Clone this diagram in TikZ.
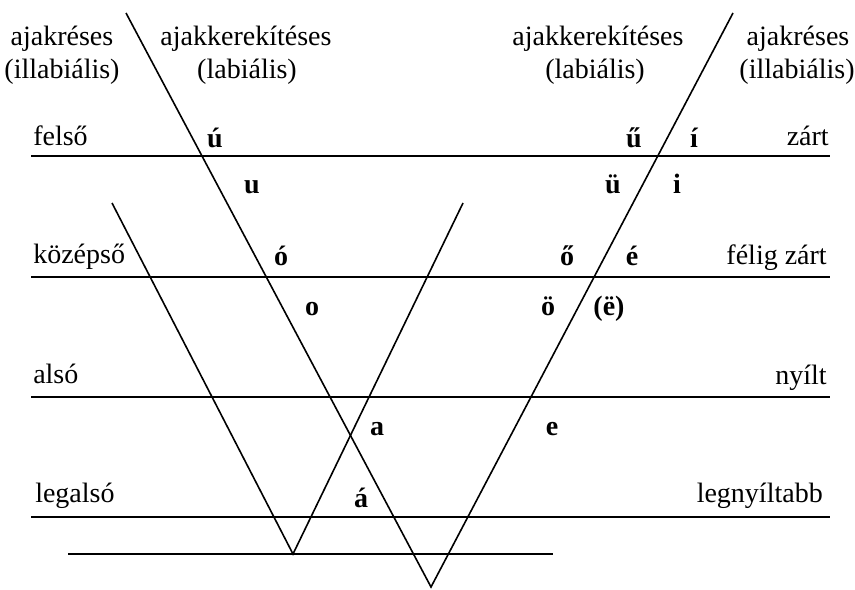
\documentclass[tikz,border=0pt]{standalone}
\usepackage{fontspec}
\setmainfont{Liberation Serif}
\begin{document}
\begin{tikzpicture}[x=0.75pt,y=-0.75pt,font=\fontsize{21}{25}\selectfont,
 szint/.style={line width=1.5pt},
 szar/.style={line width=1.2pt},
 felirat/.style={inner sep=0pt,anchor=base},
 hang/.style={inner sep=0pt,anchor=base,font=\fontsize{21}{25}\selectfont\bfseries}]
\useasboundingbox (0,0) rectangle (855,589);
\coordinate (bf) at (126,13); \coordinate (jf) at (733,13); \coordinate (nagy) at (431,587);
\coordinate (kbf) at (112,203); \coordinate (kjf) at (463,203); \coordinate (kicsi) at (293,554);
\coordinate (ab) at (68,554); \coordinate (aj) at (553,554);
\foreach \n/\y in {1/156,2/277,3/397,4/517}{
 \coordinate (b\n) at (31,\y); \coordinate (j\n) at (830,\y);
 \draw[szint] (b\n)--(j\n);}
\draw[szar] (bf)--(nagy)--(jf); \draw[szar] (kbf)--(kicsi)--(kjf); \draw[szar] (ab)--(aj);
\node[felirat] (ir1) at (62,45) {ajakréses};
\node[felirat] (ir2) at (62,78) {(illabiális)};
\node[felirat] (lb1) at (246,45) {ajakkerekítéses};
\node[felirat] (lb2) at (247,78) {(labiális)};
\node[felirat] (lj1) at (598,45) {ajakkerekítéses};
\node[felirat] (lj2) at (595,78) {(labiális)};
\node[felirat] (ij1) at (798,45) {ajakréses};
\node[felirat] (ij2) at (797,78) {(illabiális)};
\node[felirat,anchor=base west] (felso) at (33,145) {felső};
\node[felirat,anchor=base west] (kozepso) at (33,263) {középső};
\node[felirat,anchor=base west] (also) at (33,383) {alsó};
\node[felirat,anchor=base west] (legalso) at (35,502) {legalsó};
\node[felirat,anchor=base east] (zart) at (829,145) {zárt};
\node[felirat,anchor=base east] (felig) at (827,264) {félig zárt};
\node[felirat,anchor=base east] (nyilt) at (827,384) {nyílt};
\node[felirat,anchor=base east] (legnyilt) at (823,502) {legnyíltabb};
\node[hang] (uh) at (215,147) {ú}; \node[hang] (u) at (252,193) {u};
\node[hang] (uuh) at (634,147) {ű}; \node[hang] (ih) at (694,147) {í};
\node[hang] (uu) at (613,193) {ü}; \node[hang] (i) at (677,193) {i};
\node[hang] (oh) at (281,265) {ó}; \node[hang] (o) at (312,315) {o};
\node[hang] (ooh) at (567,265) {ő}; \node[hang] (eh) at (632,265) {é};
\node[hang] (oo) at (548,315) {ö}; \node[hang] (ee) at (609,315) {(ë)};
\node[hang] (a) at (377,435) {a}; \node[hang] (e) at (552,435) {e};
\node[hang] (ah) at (361,507) {á};
\end{tikzpicture}
\end{document}
